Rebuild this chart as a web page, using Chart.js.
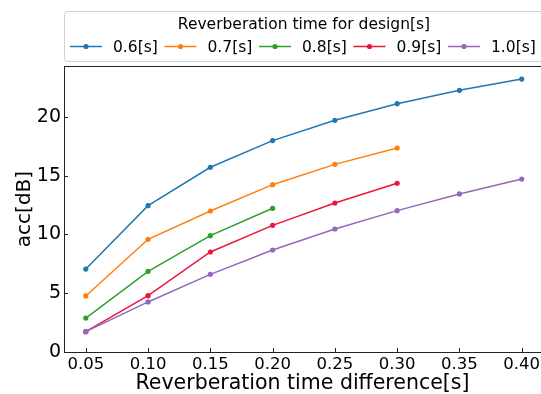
<!DOCTYPE html>
<html>
<head>
<meta charset="utf-8">
<script src="https://cdn.jsdelivr.net/npm/chart.js@4.4.0/dist/chart.umd.min.js"></script>
<style>
  html, body { margin: 0; padding: 0; background: #fff; }
  #wrap { width: 541px; height: 394px; }
</style>
</head>
<body>
<div id="wrap"><canvas id="accChart" width="541" height="394"></canvas></div>
<script>
// dane
const xValues = [0.05, 0.10, 0.15, 0.20, 0.25, 0.30, 0.35, 0.40];
const seriesLabels = ['0.6[s]', '0.7[s]', '0.8[s]', '0.9[s]', '1.0[s]'];
const series06 = [7.06, 12.45, 15.72, 17.99, 19.72, 21.13, 22.27, 23.23];
const series07 = [4.77, 9.59, 12.0, 14.24, 15.97, 17.36];
const series08 = [2.89, 6.87, 9.9, 12.23];
const series09 = [1.73, 4.79, 8.51, 10.78, 12.68, 14.36];
const series10 = [1.73, 4.26, 6.61, 8.68, 10.47, 12.03, 13.45, 14.72];
const xTicks = [0.05, 0.10, 0.15, 0.20, 0.25, 0.30, 0.35, 0.40];
const yTicks = [0, 5, 10, 15, 20];

const colors = ['#1f77b4', '#ff7f0e', '#2ca02c', '#e8173e', '#9467bd'];
const allSeries = [series06, series07, series08, series09, series10];
const FONT = "'DejaVu Sans', sans-serif";

const datasets = allSeries.map((vals, i) => ({
    label: seriesLabels[i],
    data: vals.map((v, j) => ({ x: xValues[j], y: v })),
    borderColor: colors[i],
    backgroundColor: colors[i],
    borderWidth: 1.5,
    pointRadius: 2.6,
    pointHoverRadius: 2.6,
    pointBorderWidth: 0,
    tension: 0,
    order: allSeries.length - i // ostatnia seria na wierzchu
}));

// ticki do srodka + gorna krawedz + legenda
const extras = {
    id: 'extras',
    afterDraw(chart) {
        const c = chart.ctx;
        const area = chart.chartArea;
        const xs = chart.scales.x, ys = chart.scales.y;
        c.save();
        c.strokeStyle = '#222';
        c.lineWidth = 1;
        c.beginPath();
        c.moveTo(area.left, area.top + 0.5);
        c.lineTo(area.right + 5, area.top + 0.5);
        yTicks.forEach(v => {
            const y = Math.round(ys.getPixelForValue(v)) + 0.5;
            c.moveTo(area.left, y);
            c.lineTo(area.left + 4, y);
        });
        xTicks.forEach(v => {
            const x = Math.round(xs.getPixelForValue(v)) + 0.5;
            c.moveTo(x, area.bottom);
            c.lineTo(x, area.bottom - 4);
        });
        c.stroke();

        // legenda
        const bx = 64, by = 11, bw = 480, bh = 50;
        c.fillStyle = 'rgba(255,255,255,0.85)';
        c.strokeStyle = '#d0d0d0';
        c.beginPath();
        c.roundRect(bx + 0.5, by + 0.5, bw, bh, 3);
        c.fill();
        c.stroke();

        c.fillStyle = '#000';
        c.font = '15.5px ' + FONT;
        c.textAlign = 'center';
        c.textBaseline = 'middle';
        c.fillText('Reverberation time for design[s]', bx + bw / 2, 25);

        c.textAlign = 'left';
        seriesLabels.forEach((lab, i) => {
            const x0 = 70 + i * 94.5;
            const y0 = 46.5;
            c.strokeStyle = colors[i];
            c.lineWidth = 1.5;
            c.beginPath();
            c.moveTo(x0, y0);
            c.lineTo(x0 + 32, y0);
            c.stroke();
            c.fillStyle = colors[i];
            c.beginPath();
            c.arc(x0 + 16, y0, 2.6, 0, Math.PI * 2);
            c.fill();
            c.fillStyle = '#000';
            c.fillText(lab, x0 + 43, y0 + 1);
        });
        c.restore();
    }
};

const ctx = document.getElementById('accChart').getContext('2d');
const accChart = new Chart(ctx, {
    type: 'line',
    data: { datasets: datasets },
    options: {
        responsive: false,
        animation: false,
        layout: { autoPadding: false, padding: { top: 66, left: 0, right: 0, bottom: 0 } },
        plugins: { legend: { display: false }, tooltip: { enabled: false } },
        scales: {
            x: {
                type: 'linear',
                min: 0.0325,
                max: 0.4155,
                afterFit(scale) {
                    scale.height = 42;
                    scale.paddingLeft = 0;
                    scale.paddingRight = 0;
                },
                afterBuildTicks(scale) { scale.ticks = xTicks.map(v => ({ value: v })); },
                grid: { display: false, drawTicks: false },
                border: { display: true, color: '#222', width: 1 },
                ticks: {
                    color: '#000',
                    padding: 3,
                    maxRotation: 0,
                    autoSkip: false,
                    font: { family: FONT, size: 16.5 },
                    callback: v => v.toFixed(2)
                },
                title: {
                    display: true,
                    text: 'Reverberation time difference[s]',
                    color: '#000',
                    font: { family: FONT, size: 20.5, lineHeight: 1 },
                    padding: { top: 0, bottom: 0 }
                }
            },
            y: {
                min: 0,
                max: 24.34,
                afterFit(scale) {
                    scale.width = 64;
                    scale.paddingTop = 0;
                    scale.paddingBottom = 0;
                },
                afterBuildTicks(scale) { scale.ticks = yTicks.map(v => ({ value: v })); },
                grid: { display: false, drawTicks: false },
                border: { display: true, color: '#222', width: 1 },
                ticks: {
                    color: '#000',
                    padding: 3,
                    font: { family: FONT, size: 19 }
                },
                title: {
                    display: true,
                    text: 'acc[dB]',
                    color: '#000',
                    font: { family: FONT, size: 20, lineHeight: 1 },
                    padding: { top: 15, bottom: 0 }
                }
            }
        }
    },
    plugins: [extras]
});
</script>
</body>
</html>
